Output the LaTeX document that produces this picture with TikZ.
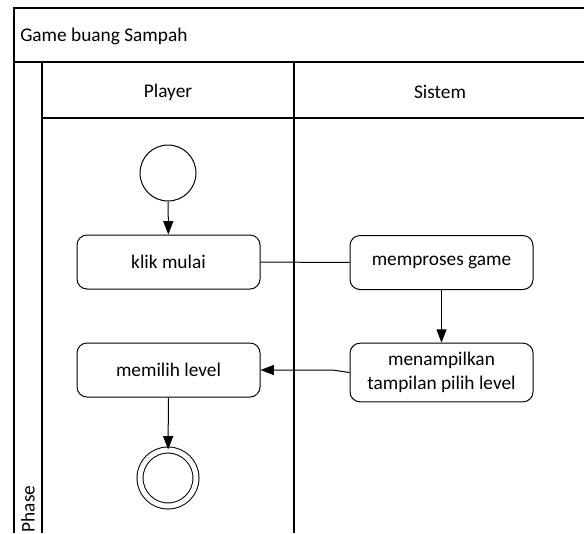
\documentclass[tikz,border=0pt]{standalone}
\usepackage{fontspec}
\setmainfont{Carlito}
\usetikzlibrary{arrows.meta,shapes.misc}
\begin{document}
\begin{tikzpicture}[x=0.75pt,y=-0.75pt,
  every node/.style={font=\fontsize{14.5}{17.5}\selectfont},
  frame/.style={draw=black,line width=0.8pt},
  activity/.style={draw=black,line width=0.75pt,rounded corners=7.5pt,
    minimum width=137.25pt,minimum height=40.5pt,align=center,inner sep=0pt},
  startnode/.style={draw=black,line width=0.75pt,circle,minimum size=42pt,inner sep=0pt},
  endnode/.style={draw=black,line width=0.75pt,circle,minimum size=42pt,inner sep=0pt,
    double=white,double distance=3.75pt},
  flow/.style={draw=black,line width=0.75pt,-{Triangle[length=10pt,width=7.5pt]}},
  link/.style={draw=black,line width=0.75pt}]
\useasboundingbox (0,0) rectangle (584,533);

% pool frame and lanes
\draw[frame] (14,533) -- (14,8) -- (584,8);
\draw[frame] (14,62) -- (584,62);
\draw[frame] (42,62) -- (42,533);
\draw[frame] (294,62) -- (294,533);
\draw[frame] (42,118) -- (584,118);

% labels of pool, phase and lanes
\node[anchor=west,inner sep=0pt] (pool) at (20,36) {Game buang Sampah};
\node[anchor=west,rotate=90] (phase) at (28,537) {Phase};
\node (player) at (168,92) {Player};
\node (sistem) at (440,92) {Sistem};

% activities
\node[startnode] (start) at (168,173) {};
\node[activity] (klik) at (168.5,262) {klik mulai};
\node[activity] (proses) at (441.5,262.5) {memproses game};
\node[activity,minimum height=44pt] (tampil) at (441.5,372.5) {menampilkan\\tampilan pilih level};
\node[activity] (pilih) at (168.5,370) {memilih level};
\node[endnode] (finish) at (168,478) {};

% control flow
\draw[flow] (start) -- (klik);
\draw[link] (klik) -- (proses);
\draw[flow] (proses) -- (tampil);
\draw[flow] (tampil.west) -- ++(-17,-2.5) -- (pilih.east);
\draw[flow] (pilih) -- (finish);
\end{tikzpicture}
\end{document}
